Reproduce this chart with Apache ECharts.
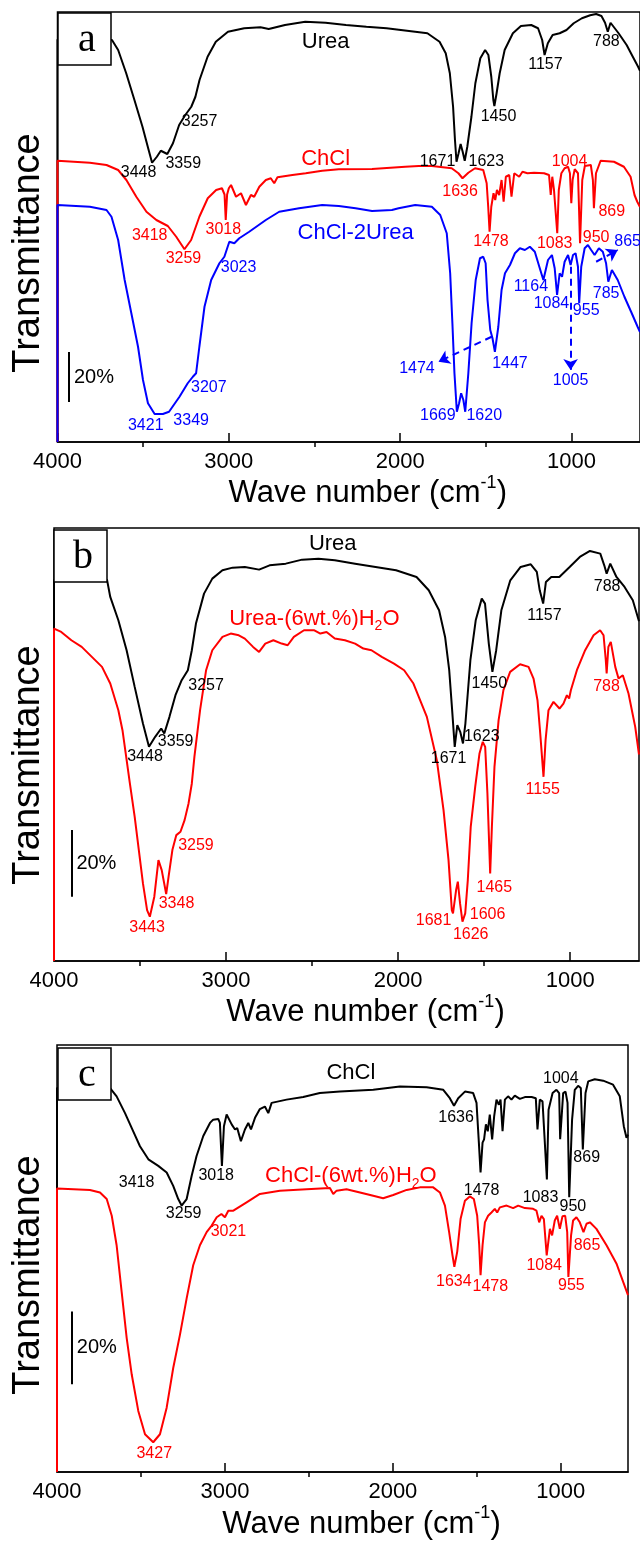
<!DOCTYPE html>
<html><head><meta charset="utf-8">
<script src="https://cdn.jsdelivr.net/npm/echarts@6/dist/echarts.min.js"></script>
<style>html,body{margin:0;padding:0;background:#fff}#c{width:640px;height:1545px}</style>
</head><body><div id="c"></div>
<script>
// ---------- data: [wavenumber (cm-1), relative transmittance (%)] ----------
const xTicksMajor = [1000, 2000, 3000, 4000];
const xTicksMinor = [1500, 2500, 3500];

// panel a
const ureaA = [[4000,0],[4000,161],[3682,160.8],[3646,156.8],[3599,147.5],[3551,136.8],[3504,126.1],[3468,116.8],[3448,111.7],[3420,114.1],[3397,116.5],[3359,115.2],[3326,119.5],[3290,126.8],[3254,130.8],[3219,134.1],[3195,138.1],[3171,144.8],[3124,154.1],[3076,160.1],[3005,164.1],[2910,165.5],[2815,165.9],[2767,165.2],[2672,166.8],[2554,168.1],[2435,167.7],[2316,166.8],[2197,166.1],[2079,165.5],[1960,164.5],[1841,163.5],[1770,160.1],[1734,155.5],[1710,147.5],[1691,134.1],[1680,120.8],[1671,112.1],[1659,115.5],[1647,119.2],[1635,116.1],[1623,112.5],[1608,118.1],[1584,130.1],[1561,143.5],[1532,153.5],[1504,156.8],[1485,154.8],[1468,146.1],[1456,136.8],[1450,134.4],[1437,139.5],[1419,147.5],[1390,156.8],[1342,163.5],[1295,166.4],[1235,166.8],[1195,165.5],[1171,160.8],[1157,154.8],[1138,159.5],[1110,162.8],[1069,163.5],[1029,164.8],[987,167.5],[939,169.5],[891,170.7],[856,171.2],[825,170.4],[804,167.7],[788,164.1],[772,167.7],[725,163.5],[678,158.8],[642,154.1],[611,150.1],[600,148.5]];
const chclA = [[4000,0],[4000,112.5],[3995,112.5],[3811,111.7],[3714,110.8],[3646,108.8],[3598,104.8],[3540,98.1],[3481,92.1],[3423,88.8],[3356,86.4],[3307,82.1],[3259,77.1],[3220,80.8],[3172,90.1],[3123,97.5],[3074,100.8],[3040,101.5],[3025,99],[3018,88.8],[3010,99],[3000,101.5],[2987,102.8],[2958,98.1],[2929,99.5],[2900,94.8],[2871,98.8],[2852,98.1],[2822,102.1],[2784,104.8],[2755,105.5],[2735,103.5],[2716,105.9],[2629,106.8],[2551,107.5],[2455,108.5],[2358,109.1],[2164,109.2],[1970,110.1],[1892,110.4],[1815,110.4],[1699,109.5],[1660,107.5],[1636,105.5],[1602,107.7],[1563,109.5],[1515,108.8],[1495,103.5],[1486,94.1],[1478,84.1],[1468,94.1],[1455,99.5],[1445,96.8],[1435,100.8],[1422,98.8],[1408,104.8],[1396,96.1],[1383,106.1],[1363,106.8],[1350,98.1],[1334,107.5],[1305,106.1],[1286,108.1],[1257,107.5],[1218,107.7],[1160,107.5],[1131,106.8],[1121,98.8],[1112,106.1],[1102,100.8],[1083,83.5],[1074,100.8],[1059,107.5],[1040,109.5],[1020,110.1],[1009,107.5],[1001,95.5],[993,105],[981,109.1],[962,107.5],[950,79.5],[937,104.8],[922,110.4],[887,110.8],[875,104.8],[869,93.5],[857,107.5],[830,112.5],[752,112.1],[694,110.1],[655,106.1],[632,98.8],[616,96.1],[600,94]];
const desA = [[4000,0],[4000,94.8],[3995,94.8],[3811,94.1],[3714,92.8],[3685,90.1],[3646,80.8],[3608,64.8],[3569,51.5],[3530,38.1],[3501,24.8],[3472,15.5],[3433,11.2],[3385,11.2],[3349,12.1],[3288,18.1],[3240,23.5],[3210,26.1],[3191,27.5],[3172,38.1],[3142,54.1],[3103,64.8],[3055,71.5],[3026,74.1],[2997,80.1],[2968,79.5],[2939,81.5],[2881,84.1],[2784,88.8],[2706,92.1],[2590,93.5],[2455,94.8],[2358,94.4],[2260,93.5],[2164,92.4],[2048,92.8],[2009,93.5],[1912,94.8],[1815,94.1],[1766,90.8],[1728,83.5],[1708,67.5],[1695,47.5],[1683,27.5],[1669,12.1],[1656,15.5],[1644,19.5],[1631,16.8],[1620,12.1],[1602,27.5],[1583,47.5],[1559,64.8],[1534,73.5],[1515,74.1],[1501,71.5],[1490,56.8],[1474,44.8],[1461,41.5],[1447,36.1],[1427,46.1],[1408,60.8],[1388,67.5],[1359,70.8],[1330,75.5],[1301,77.5],[1272,76.8],[1243,78.1],[1214,76.1],[1185,69.5],[1164,64.8],[1137,72.8],[1114,74.8],[1098,69.5],[1084,58.8],[1069,67.5],[1055,66.1],[1040,72.1],[1020,74.8],[1005,70.8],[991,74.8],[976,75.5],[962,70.1],[955,55.5],[943,70.1],[923,77.5],[904,78.8],[885,76.8],[865,74.8],[840,77.5],[817,76.1],[798,71.5],[785,64.1],[764,68.8],[730,64.8],[691,58.1],[652,52.1],[614,46.1],[600,44]];

// panel b
const ureaB = [[4000,0],[4000,114.5],[3692,114.5],[3673,109.3],[3626,102.3],[3578,93.3],[3531,82.3],[3483,71.3],[3448,64.3],[3412,67.3],[3377,69.8],[3359,68.3],[3329,73.3],[3294,79.8],[3258,84.3],[3222,87.3],[3199,93.3],[3175,101.3],[3128,110.3],[3080,114.8],[3021,117.3],[2962,118.1],[2891,118.3],[2808,117.5],[2747,118.8],[2653,119.3],[2558,120.5],[2463,120.8],[2368,120.3],[2250,119.3],[2131,118.3],[2012,117.3],[1893,115.3],[1822,111.3],[1762,105.3],[1727,97.3],[1703,87.3],[1686,75.3],[1671,64.3],[1656,70.8],[1639,68.8],[1623,65.3],[1609,71.3],[1580,90.3],[1549,102.3],[1514,108.8],[1495,107.3],[1473,95.3],[1452,86.8],[1430,93.3],[1400,105.3],[1348,114.3],[1288,118.3],[1229,119.1],[1194,116.8],[1177,111.3],[1157,107.3],[1141,113.8],[1110,115.3],[1063,115.3],[1003,118.3],[944,121.3],[885,123.1],[825,122.3],[802,118.8],[788,116.3],[767,119.3],[731,115.3],[684,112.3],[636,108.3],[600,102]];
const ureaWaterB = [[4000,0],[4000,99.8],[3958,98.8],[3899,96.3],[3839,94.3],[3780,91.3],[3721,88.3],[3673,83.3],[3626,75.3],[3602,69.3],[3559,53.3],[3531,43.3],[3507,33.3],[3483,23.3],[3459,15.3],[3443,13.3],[3417,19.3],[3393,30.3],[3374,27.3],[3348,20.1],[3334,25.3],[3312,33.3],[3289,37.8],[3265,38.8],[3241,42.3],[3218,47.3],[3199,53.3],[3184,61.3],[3151,75.3],[3116,87.3],[3080,93.3],[3021,97.3],[2973,98.3],[2926,97.8],[2891,96.8],[2843,94.3],[2808,92.8],[2772,95.3],[2725,96.3],[2677,95.3],[2642,94.8],[2606,97.3],[2547,99.3],[2487,99.3],[2452,98.3],[2416,98.8],[2368,96.8],[2309,96.3],[2250,95.3],[2202,93.8],[2155,93.3],[2095,91.3],[2024,89.3],[1965,87.3],[1911,83.3],[1833,73.3],[1775,60.3],[1736,45.3],[1707,30.3],[1688,15.3],[1681,14.3],[1663,21.3],[1653,23.8],[1640,17.3],[1626,11.8],[1610,14.3],[1595,24.3],[1578,40.3],[1552,52.3],[1527,62.3],[1508,65.8],[1494,64.3],[1481,50.3],[1465,26.3],[1455,40.3],[1440,58.3],[1416,72.3],[1388,81.3],[1349,86.8],[1291,89.1],[1242,88.3],[1213,84.8],[1190,78.3],[1174,68.3],[1155,55.3],[1143,66.3],[1126,75.3],[1097,77.8],[1062,75.8],[1039,77.3],[1019,79.8],[1006,78.8],[996,81.3],[961,87.3],[913,93.3],[864,97.8],[826,99.3],[806,97.8],[793,90.3],[788,86.3],[778,94.3],[764,95.8],[738,88.3],[719,84.8],[694,85.8],[661,80.3],[622,70.3],[600,62]];

// panel c
const chclC = [[4000,0],[4000,105.5],[3685,105.5],[3645,103.2],[3595,98.6],[3546,93.6],[3506,89.5],[3456,85.9],[3397,84.1],[3347,82.3],[3308,78.6],[3278,75.0],[3258,73.2],[3228,75.0],[3198,81.4],[3169,86.8],[3129,92.3],[3089,95.9],[3070,96.8],[3040,97.0],[3030,95.9],[3018,84.1],[3006,95.0],[2990,98.2],[2960,95.5],[2940,94.1],[2927,94.5],[2905,90.9],[2881,94.1],[2861,95.9],[2845,94.1],[2821,97.3],[2792,99.7],[2762,100.4],[2742,98.6],[2722,101.4],[2633,102.3],[2534,103.0],[2435,104.1],[2315,104.5],[2117,105.0],[1958,105.9],[1799,105.7],[1700,105.0],[1661,102.7],[1636,100.6],[1611,102.7],[1571,104.5],[1522,104.1],[1502,101.4],[1488,90.5],[1478,82.3],[1466,90.5],[1457,91.4],[1446,95.5],[1435,93.6],[1423,98.2],[1409,91.4],[1397,97.7],[1383,102.3],[1369,100.9],[1359,102.3],[1347,93.6],[1333,102.3],[1314,103.2],[1294,102.3],[1274,103.4],[1244,102.5],[1214,103.0],[1174,103.0],[1149,102.7],[1139,94.1],[1125,102.3],[1109,101.8],[1083,80.4],[1073,99.5],[1049,104.1],[1026,105.0],[1010,104.1],[1004,91.4],[986,104.1],[972,104.5],[960,101.4],[950,75.5],[933,96.8],[917,105.0],[897,106.1],[881,105.5],[869,88.6],[853,104.1],[837,107.3],[798,107.9],[748,107.5],[689,106.4],[649,103.2],[625,95.0],[609,91.8],[600,92.7]];
const chclWaterC = [[4000,0],[4000,77.9],[3992,77.9],[3804,77.5],[3744,76.8],[3704,75.0],[3674,70.4],[3645,62.3],[3615,49.5],[3585,36.8],[3555,26.8],[3516,16.8],[3476,10.4],[3427,8.2],[3387,10.4],[3347,17.7],[3308,28.6],[3268,37.7],[3228,47.7],[3189,56.8],[3149,62.3],[3109,65.9],[3079,67.7],[3049,70.0],[3021,70.9],[3000,70.0],[2980,71.8],[2950,71.8],[2871,74.1],[2792,76.4],[2673,77.3],[2514,77.7],[2375,78.0],[2355,76.4],[2335,77.3],[2276,77.7],[2196,76.8],[2117,75.9],[2058,75.2],[1998,76.1],[1918,77.5],[1839,78.2],[1760,78.2],[1720,76.8],[1690,73.2],[1665,65.9],[1645,59.5],[1634,56.4],[1617,60.5],[1597,69.5],[1571,74.5],[1542,75.7],[1518,75.0],[1498,70.4],[1486,62.3],[1478,54.1],[1466,62.3],[1452,68.6],[1433,70.4],[1413,71.3],[1393,72.3],[1379,71.3],[1363,72.7],[1323,73.2],[1284,72.5],[1254,73.2],[1214,72.5],[1165,72.3],[1145,71.8],[1129,68.6],[1115,70.4],[1101,69.5],[1084,59.5],[1065,66.8],[1052,65.0],[1036,69.1],[1022,70.4],[1006,66.8],[990,70.3],[974,70.4],[962,65.9],[955,53.6],[939,65.0],[927,69.1],[907,70.0],[887,68.6],[865,65.9],[847,68.2],[827,68.6],[788,66.8],[728,62.3],[669,57.3],[600,48.6]];

// peak annotations: [text, wavenumber, value]
const ureaALabels = [["Urea",2435,160.1],["3257",3171,128.1],["3448",3527,107.7],["3359",3266,111.5],["1671",1782,112.1],["1623",1497,112.1],["1450",1426,130.1],["1157",1152,150.8],["788",796,160.1]];
const chclALabels = [["ChCl",2435,113.1],["3418",3462,82.4],["3259",3265,73.2],["3018",3032,85.1],["1636",1650,100.3],["1478",1470,80.1],["1083",1098,79.2],["1004",1011,112.1],["950",856,81.7],["869",765,92.2]];
const desALabels = [["ChCl-2Urea",2260,83.7],["3023",2943,69.7],["3207",3117,21.9],["3421",3485,6.5],["3349",3220,8.4],["1474",1902,29.5],["1669",1780,10.4],["1620",1509,10.4],["1447",1359,31.5],["1164",1237,62.1],["1084",1117,55.2],["955",914,52.5],["1005",1005,24.5],["785",798,59.5],["865",672,80.1]];
const desAArrows = [[[1466,42.1],[1776,32.1]],[[1005,70.1],[1005,28.8]],[[856,72.1],[730,76.8]]];
const ureaBLabels = [["Urea",2380,125.3],["3257",3116,82.8],["3448",3471,61.3],["3359",3293,65.8],["1671",1707,60.8],["1623",1514,67.3],["1450",1470,83.3],["1157",1150,103.8],["788",785,112.5]];
const ureaWaterBLabels = [["Urea-(6wt.%)H2O",2487,102.8],["3443",3459,10.1],["3348",3288,17.1],["3259",3175,34.6],["1681",1794,12.1],["1626",1578,7.8],["1606",1480,13.8],["1465",1441,22.1],["1155",1160,51.5],["788",789,82.3]];
const chclCLabels = [["ChCl",2250,109.5],["3418",3526,79.5],["3259",3246,70.9],["3018",3052,81.3],["1636",1624,97.3],["1478",1472,77.3],["1083",1121,75.5],["950",928,72.9],["1004",1000,108.0],["869",846,86.4]];
const chclWaterCLabels = [["ChCl-(6wt.%)H2O",2250,81.3],["3021",2979,66.1],["3427",3421,5.0],["1634",1637,52.3],["1478",1420,50.9],["1084",1099,56.6],["955",937,51.2],["865",844,62.3]];
// scale bars (20 %): [wavenumber, bottom value]
const scaleBars = [[3933,16],[3899,19.3],[3912,24.1]];
const yMax = [172, 130, 117.3];

// ---------- chart ----------
const FONT = 'Liberation Sans, Arial, sans-serif';
const BLACK = '#000000', RED = '#ff0000', BLUE = '#0000ff';
const grids = [
  {left: 57.5, top: 12, width: 585.5, height: 430},
  {left: 54, top: 528, width: 585, height: 433},
  {left: 57, top: 1045, width: 571, height: 430}
];
const chart = echarts.init(document.getElementById('c'), null, {renderer: 'canvas'});

function mainX(gi) {
  return {
    type: 'value', gridIndex: gi, min: 600, max: 4000, inverse: true,
    axisLine: {show: true, onZero: false, lineStyle: {color: BLACK, width: 1.5}},
    axisTick: {show: true, inside: true, length: 9, customValues: xTicksMajor, lineStyle: {color: BLACK, width: 1.5}},
    axisLabel: {show: true, customValues: xTicksMajor, fontSize: 22, color: BLACK, margin: 9, fontFamily: FONT,
      formatter: v => String(v)},
    splitLine: {show: false},
    name: 'Wave number (cm{sup|-1})', nameLocation: 'middle', nameGap: 30,
    nameTextStyle: {fontSize: 31, color: BLACK, fontFamily: FONT, lineHeight: 40, padding: [0, 0, 0, 38],
      rich: {sup: {fontSize: 18, verticalAlign: 'top', lineHeight: 18, color: BLACK, fontFamily: FONT}}}
  };
}
function minorX(gi) {
  return {
    type: 'value', gridIndex: gi, min: 600, max: 4000, inverse: true,
    axisLine: {show: false}, axisLabel: {show: false}, splitLine: {show: false},
    axisTick: {show: true, inside: true, length: 5, customValues: xTicksMinor, lineStyle: {color: BLACK, width: 1.5}}
  };
}
function yAx(gi) {
  return {type: 'value', gridIndex: gi, min: 0, max: yMax[gi], show: false};
}
function labelItems(list, color) {
  return list.map(([t, w, v]) => {
    const big = isNaN(Number(t));
    const lab = {show: true, position: 'inside', color: color, fontFamily: FONT,
      fontSize: big ? 22 : 16, formatter: p => p.name.replace('H2O', 'H{s|2}O')};
    if (big) { lab.lineHeight = 30; lab.rich = {s: {fontSize: 14, verticalAlign: 'bottom', lineHeight: 14, color: color, fontFamily: FONT}}; }
    return {coord: [w, v], name: t, label: lab};
  });
}
function series(gi, data, color, labels, labColor, extra) {
  const s = {
    type: 'line', xAxisIndex: gi * 2, yAxisIndex: gi, data: data,
    showSymbol: false, symbol: 'none', animation: false, silent: true,
    lineStyle: {color: color, width: 2}, itemStyle: {color: color},
    markPoint: {symbol: 'circle', symbolSize: 0, silent: true, animation: false,
      itemStyle: {color: 'transparent'}, data: labelItems(labels, labColor)}
  };
  return Object.assign(s, extra || {});
}
function scaleBar(gi) {
  const [w, v] = scaleBars[gi];
  return {
    markLine: {silent: true, animation: false, symbol: ['none', 'none'], label: {show: false},
      lineStyle: {color: BLACK, width: 2, type: 'solid'},
      data: [[{coord: [w, v]}, {coord: [w, v + 20]}]]}
  };
}
function addScaleText(s, gi) {
  const [w, v] = scaleBars[gi];
  s.markPoint.data.push({coord: [w, v + 10], name: '20%',
    label: {show: true, position: 'right', distance: 5, color: BLACK, fontSize: 20, fontFamily: FONT, formatter: '{b}'}});
  return s;
}

const sA1 = addScaleText(series(0, ureaA, BLACK, ureaALabels, BLACK, scaleBar(0)), 0);
const sA2 = series(0, chclA, RED, chclALabels, RED);
const sA3 = series(0, desA, BLUE, desALabels, BLUE, {
  markLine: {silent: true, animation: false, symbol: ['none', 'arrow'], symbolSize: 11, label: {show: false},
    lineStyle: {color: BLUE, width: 2, type: [7, 5]},
    data: desAArrows.map(([a, b]) => [{coord: a}, {coord: b}])}
});
const sB1 = addScaleText(series(1, ureaB, BLACK, ureaBLabels, BLACK, scaleBar(1)), 1);
const sB2 = series(1, ureaWaterB, RED, ureaWaterBLabels, RED);
const sC1 = addScaleText(series(2, chclC, BLACK, chclCLabels, BLACK, scaleBar(2)), 2);
const sC2 = series(2, chclWaterC, RED, chclWaterCLabels, RED);

const boxes = [
  {x: 58, y: 13, t: 'a'},
  {x: 54, y: 530, t: 'b'},
  {x: 58, y: 1048, t: 'c'}
];
const titleY = [253, 765, 1275];
const graphic = [];
boxes.forEach(b => {
  graphic.push({type: 'rect', z: 100, shape: {x: b.x, y: b.y, width: 53, height: 52},
    style: {fill: '#fff', stroke: BLACK, lineWidth: 1.5}});
  graphic.push({type: 'text', z: 101, x: b.x + 29, y: b.y + 27,
    style: {text: b.t, font: '40px "Liberation Serif", "Times New Roman", serif', fill: BLACK, align: 'center', verticalAlign: 'middle'}});
});
titleY.forEach(y => {
  graphic.push({type: 'text', z: 50, x: 29, y: y, rotation: Math.PI / 2,
    style: {text: 'Transmittance', font: '38px "Liberation Sans", Arial, sans-serif', fill: BLACK, align: 'center', verticalAlign: 'middle'}});
});

chart.setOption({
  backgroundColor: '#fff',
  animation: false,
  textStyle: {fontFamily: FONT},
  grid: grids.map(g => Object.assign({show: true, borderColor: BLACK, borderWidth: 1.5, backgroundColor: 'transparent', containLabel: false}, g)),
  xAxis: [mainX(0), minorX(0), mainX(1), minorX(1), mainX(2), minorX(2)],
  yAxis: [yAx(0), yAx(1), yAx(2)],
  series: [sA1, sA2, sA3, sB1, sB2, sC1, sC2],
  graphic: graphic
});
</script></body></html>
